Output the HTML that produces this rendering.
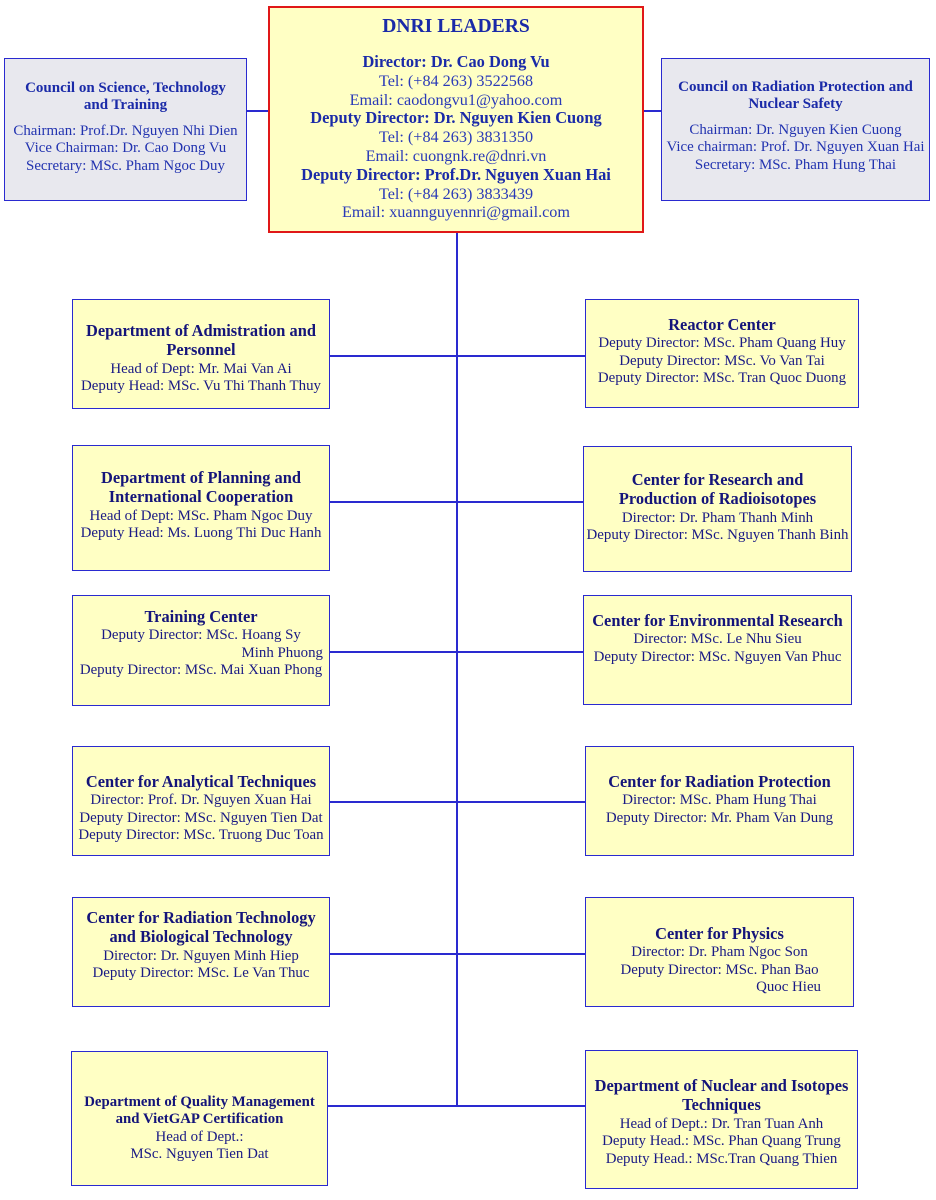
<!DOCTYPE html>
<html><head><meta charset="utf-8"><style>
body{margin:0;width:936px;height:1200px;background:#fff;position:relative;font-family:"Liberation Serif",serif;overflow:hidden}
.b{position:absolute;box-sizing:border-box;background:#ffffc4;border:1.5px solid #2a2ad0;text-align:center;color:#1a1a85;font-size:14.9px;line-height:17.4px;white-space:nowrap}
.b b{font-size:16.4px;line-height:18.5px;color:#14147a}
.g{background:#e8e8ee;color:#2233b0}
.g b{font-size:15px;line-height:17px;color:#1a2aa8}
.l{position:absolute;background:#2a2ad0}
.top{border:2.5px solid #e01818;color:#2a3ab8;font-size:16.2px;line-height:18.8px}
.top b{color:#1a2aa8;font-size:16.4px;line-height:18.8px}
</style></head><body>
<div class="l" style="left:456px;top:232px;width:1.5px;height:874px"></div>
<div class="l" style="left:246px;top:110px;width:22px;height:1.5px"></div>
<div class="l" style="left:643px;top:110px;width:18px;height:1.5px"></div>
<div class="l" style="left:329px;top:355px;width:256px;height:1.5px"></div>
<div class="l" style="left:329px;top:501px;width:254px;height:1.5px"></div>
<div class="l" style="left:329px;top:651px;width:254px;height:1.5px"></div>
<div class="l" style="left:329px;top:801px;width:256px;height:1.5px"></div>
<div class="l" style="left:329px;top:953px;width:256px;height:1.5px"></div>
<div class="l" style="left:327px;top:1105px;width:258px;height:1.5px"></div>

<div class="b top" style="left:268px;top:6px;width:376px;height:227px;padding-top:7px"><b style="font-size:19.6px;line-height:24px">DNRI LEADERS</b><br><div style="height:14px"></div><b>Director: Dr. Cao Dong Vu</b><br>Tel: (+84 263) 3522568<br>Email: caodongvu1@yahoo.com<br><b>Deputy Director: Dr. Nguyen Kien Cuong</b><br>Tel: (+84 263) 3831350<br>Email: cuongnk.re@dnri.vn<br><b>Deputy Director: Prof.Dr. Nguyen Xuan Hai</b><br>Tel: (+84 263) 3833439<br>Email: xuannguyennri@gmail.com</div>

<div class="b g" style="left:4px;top:58px;width:243px;height:143px;padding-top:21px"><b>Council on Science, Technology<br>and Training</b><div style="height:8px"></div>Chairman: Prof.Dr. Nguyen Nhi Dien<br>Vice Chairman: Dr. Cao Dong Vu<br>Secretary: MSc. Pham Ngoc Duy</div>
<div class="b g" style="left:661px;top:58px;width:269px;height:143px;padding-top:20px"><b>Council on Radiation Protection and<br>Nuclear Safety</b><div style="height:8px"></div>Chairman: Dr. Nguyen Kien Cuong<br>Vice chairman: Prof. Dr. Nguyen Xuan Hai<br>Secretary: MSc. Pham Hung Thai</div>

<div class="b" style="left:72px;top:299px;width:258px;height:110px;padding-top:22px"><b>Department of Admistration and<br>Personnel</b><br>Head of Dept: Mr. Mai Van Ai<br>Deputy Head: MSc. Vu Thi Thanh Thuy</div>
<div class="b" style="left:72px;top:445px;width:258px;height:126px;padding-top:23px"><b>Department of Planning and<br>International Cooperation</b><br>Head of Dept: MSc. Pham Ngoc Duy<br>Deputy Head: Ms. Luong Thi Duc Hanh</div>
<div class="b" style="left:72px;top:595px;width:258px;height:111px;padding-top:12px"><b>Training Center</b><br>Deputy Director: MSc. Hoang Sy<br><div style="text-align:right;padding-right:6px">Minh Phuong</div>Deputy Director: MSc. Mai Xuan Phong</div>
<div class="b" style="left:72px;top:746px;width:258px;height:110px;padding-top:26px"><b>Center for Analytical Techniques</b><br>Director: Prof. Dr. Nguyen Xuan Hai<br>Deputy Director: MSc. Nguyen Tien Dat<br>Deputy Director: MSc. Truong Duc Toan</div>
<div class="b" style="left:72px;top:897px;width:258px;height:110px;padding-top:11px"><b>Center for Radiation Technology<br>and Biological Technology</b><br>Director: Dr. Nguyen Minh Hiep<br>Deputy Director: MSc. Le Van Thuc</div>
<div class="b" style="left:71px;top:1051px;width:257px;height:135px;padding-top:42px"><b style="font-size:14.8px;line-height:17.4px">Department of Quality Management<br>and VietGAP Certification</b><br>Head of Dept.:<br>MSc. Nguyen Tien Dat</div>

<div class="b" style="left:585px;top:299px;width:274px;height:109px;padding-top:16px"><b>Reactor Center</b><br>Deputy Director: MSc. Pham Quang Huy<br>Deputy Director: MSc. Vo Van Tai<br>Deputy Director: MSc. Tran Quoc Duong</div>
<div class="b" style="left:583px;top:446px;width:269px;height:126px;padding-top:24px"><b>Center for Research and<br>Production of Radioisotopes</b><br>Director: Dr. Pham Thanh Minh<br>Deputy Director: MSc. Nguyen Thanh Binh</div>
<div class="b" style="left:583px;top:595px;width:269px;height:110px;padding-top:16px"><b>Center for Environmental Research</b><br>Director: MSc. Le Nhu Sieu<br>Deputy Director: MSc. Nguyen Van Phuc</div>
<div class="b" style="left:585px;top:746px;width:269px;height:110px;padding-top:26px"><b>Center for Radiation Protection</b><br>Director: MSc. Pham Hung Thai<br>Deputy Director: Mr. Pham Van Dung</div>
<div class="b" style="left:585px;top:897px;width:269px;height:110px;padding-top:27px"><b>Center for Physics</b><br>Director: Dr. Pham Ngoc Son<br>Deputy Director: MSc. Phan Bao<br><div style="text-align:right;padding-right:32px">Quoc Hieu</div></div>
<div class="b" style="left:585px;top:1050px;width:273px;height:139px;padding-top:26px"><b>Department of Nuclear and Isotopes<br>Techniques</b><br>Head of Dept.: Dr. Tran Tuan Anh<br>Deputy Head.: MSc. Phan Quang Trung<br>Deputy Head.: MSc.Tran Quang Thien</div>
</body></html>
